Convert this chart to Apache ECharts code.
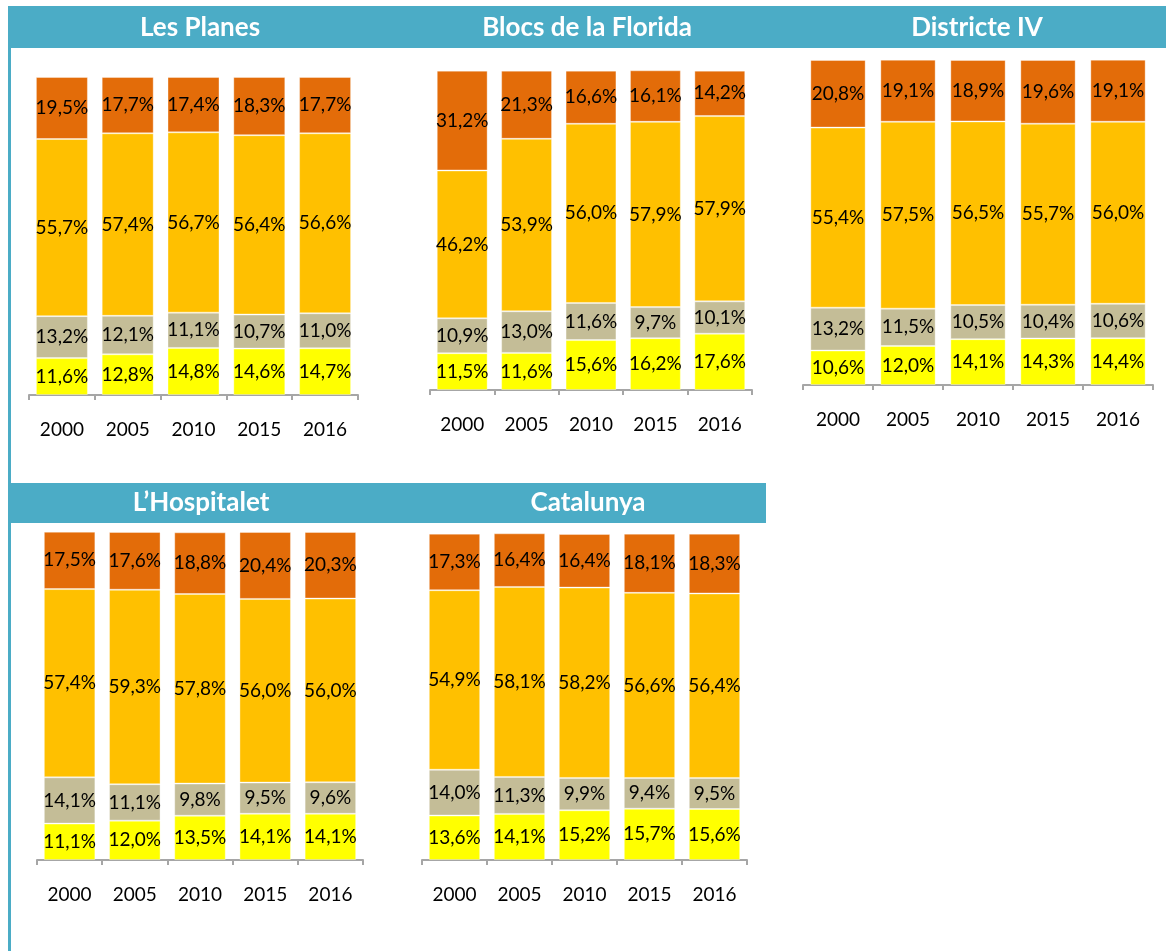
<!DOCTYPE html>
<html>
<head>
<meta charset="utf-8">
<script src="https://cdn.jsdelivr.net/npm/echarts@6/dist/echarts.min.js"></script>
<style>
html,body{margin:0;padding:0;background:#fff;}
#c{width:1166px;height:951px;}
</style>
</head>
<body>
<div id="c"></div>
<script>
// Categories
const years = ['2000', '2005', '2010', '2015', '2016'];

// Panel titles
const titles = ['Les Planes', 'Blocs de la Florida', 'Districte IV', 'L\u2019Hospitalet', 'Catalunya'];

// Les Planes
const lesPlanesYellow = [11.6, 12.8, 14.8, 14.6, 14.7];
const lesPlanesGrey   = [13.2, 12.1, 11.1, 10.7, 11.0];
const lesPlanesGold   = [55.7, 57.4, 56.7, 56.4, 56.6];
const lesPlanesOrange = [19.5, 17.7, 17.4, 18.3, 17.7];

// Blocs de la Florida
const blocsYellow = [11.5, 11.6, 15.6, 16.2, 17.6];
const blocsGrey   = [10.9, 13.0, 11.6, 9.7, 10.1];
const blocsGold   = [46.2, 53.9, 56.0, 57.9, 57.9];
const blocsOrange = [31.2, 21.3, 16.6, 16.1, 14.2];

// Districte IV
const districteYellow = [10.6, 12.0, 14.1, 14.3, 14.4];
const districteGrey   = [13.2, 11.5, 10.5, 10.4, 10.6];
const districteGold   = [55.4, 57.5, 56.5, 55.7, 56.0];
const districteOrange = [20.8, 19.1, 18.9, 19.6, 19.1];

// L'Hospitalet
const hospitaletYellow = [11.1, 12.0, 13.5, 14.1, 14.1];
const hospitaletGrey   = [14.1, 11.1, 9.8, 9.5, 9.6];
const hospitaletGold   = [57.4, 59.3, 57.8, 56.0, 56.0];
const hospitaletOrange = [17.5, 17.6, 18.8, 20.4, 20.3];

// Catalunya
const catalunyaYellow = [13.6, 14.1, 15.2, 15.7, 15.6];
const catalunyaGrey   = [14.0, 11.3, 9.9, 9.4, 9.5];
const catalunyaGold   = [54.9, 58.1, 58.2, 56.6, 56.4];
const catalunyaOrange = [17.3, 16.4, 16.4, 18.1, 18.3];

const panels = [
  [lesPlanesYellow, lesPlanesGrey, lesPlanesGold, lesPlanesOrange],
  [blocsYellow, blocsGrey, blocsGold, blocsOrange],
  [districteYellow, districteGrey, districteGold, districteOrange],
  [hospitaletYellow, hospitaletGrey, hospitaletGold, hospitaletOrange],
  [catalunyaYellow, catalunyaGrey, catalunyaGold, catalunyaOrange]
];

const colors = ['#FFFF00', '#C4BD97', '#FFC000', '#E36C09'];
const FONT = 'Lato, "Open Sans", sans-serif';

// layout
const grids = [
  {left: 29,  top: 77,  width: 329, height: 318},
  {left: 430, top: 70,  width: 322, height: 320},
  {left: 803, top: 60,  width: 350, height: 325},
  {left: 37,  top: 532, width: 326, height: 328},
  {left: 422, top: 533, width: 325, height: 327}
];
const titlePos = [
  {x: 200, y: 28}, {x: 587, y: 28}, {x: 977, y: 28},
  {x: 201, y: 503}, {x: 588, y: 503}
];

const xAxes = [], yAxes = [], series = [];
grids.forEach((g, i) => {
  xAxes.push({
    type: 'category', gridIndex: i, data: years,
    axisLine: {lineStyle: {color: '#A6A6A6', width: 2}},
    axisTick: {show: true, length: 5, lineStyle: {color: '#A6A6A6', width: 2}},
    axisLabel: {color: '#000', fontSize: 19, fontFamily: FONT, margin: 25}
  });
  yAxes.push({type: 'value', gridIndex: i, min: 0, max: 100, show: false, splitLine: {show: false}});
  panels[i].forEach((arr, k) => {
    series.push({
      type: 'bar', xAxisIndex: i, yAxisIndex: i, stack: 'p' + i,
      data: arr, barCategoryGap: '21%',
      itemStyle: {color: colors[k], borderColor: 'rgba(255,255,255,0.35)', borderWidth: 1},
      label: {
        show: true, position: 'inside', color: '#000', fontSize: 19, fontFamily: FONT,
        formatter: p => p.value.toFixed(1).replace('.', ',') + '%'
      },
      silent: true
    });
  });
});

const graphic = [
  {type: 'rect', shape: {x: 8, y: 6, width: 3, height: 945}, style: {fill: '#4BACC6'}},
  {type: 'rect', shape: {x: 8, y: 6, width: 1158, height: 42}, style: {fill: '#4BACC6'}},
  {type: 'rect', shape: {x: 8, y: 483, width: 758, height: 40}, style: {fill: '#4BACC6'}}
];
titles.forEach((t, i) => {
  graphic.push({
    type: 'text', x: titlePos[i].x, y: titlePos[i].y,
    style: {text: t, fill: '#fff', font: 'bold 26px ' + FONT, textAlign: 'center', textVerticalAlign: 'middle'}
  });
});

const chart = echarts.init(document.getElementById('c'));
chart.setOption({
  animation: false,
  backgroundColor: '#fff',
  grid: grids,
  xAxis: xAxes,
  yAxis: yAxes,
  series: series,
  graphic: graphic
});
</script>
</body>
</html>
